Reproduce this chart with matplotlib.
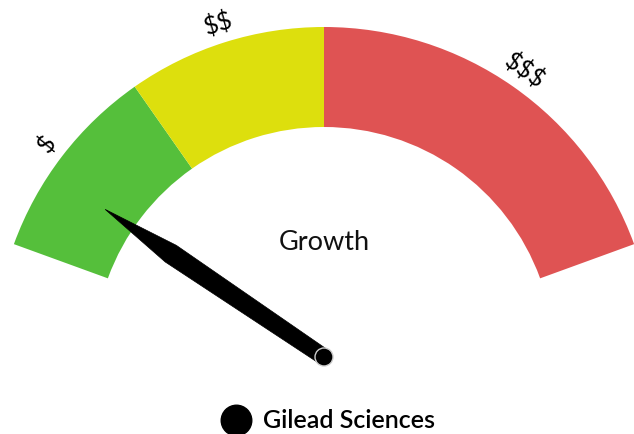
import numpy as np
import matplotlib
matplotlib.use("Agg")
import matplotlib.pyplot as plt
from matplotlib.patches import Wedge, Polygon, Circle

plt.rcParams["text.parse_math"] = False

# ---- data ----
band_starts = [0, 25, 50]
band_ends = [25, 50, 100]
band_labels = ["$", "$$", "$$$"]
band_colors = ["#55BF3B", "#DDDF0D", "#DF5353"]
gauge_min, gauge_max = 0, 100
value = 10
pane_title = "Growth"
series_name = "Gilead Sciences"

# ---- layout ----
W, H = 634, 434
cx, cy = 324, H - 357
r_out, r_in = 330, 230
start_deg, end_deg = 160, 20  # angles (deg, CCW from +x) for min and max

def ang(v):
    return start_deg + (v - gauge_min) / (gauge_max - gauge_min) * (end_deg - start_deg)

fig = plt.figure(figsize=(W / 100, H / 100), dpi=100)
ax = fig.add_axes([0, 0, 1, 1])
ax.set_xlim(0, W)
ax.set_ylim(0, H)
ax.set_aspect("equal")
ax.axis("off")

font = "Lato"

for s, e, lab, col in zip(band_starts, band_ends, band_labels, band_colors):
    a1, a2 = ang(e), ang(s)
    ax.add_patch(Wedge((cx, cy), r_out, a1, a2, width=r_out - r_in,
                       facecolor=col, edgecolor="none"))
    am = np.radians((a1 + a2) / 2)
    rl = 350
    ax.text(cx + rl * np.cos(am), cy + rl * np.sin(am), lab,
            rotation=np.degrees(am) - 90, ha="center", va="center",
            rotation_mode="anchor",
            fontsize=18, family=font, color="#000000")

ax.text(cx, H - 243, pane_title, ha="center", va="center",
        fontsize=19.5, family=font, color="#111111")

# needle
th = np.radians(ang(value))
u = np.array([np.cos(th), np.sin(th)])
n = np.array([-u[1], u[0]])
L = 264
c = np.array([cx, cy], dtype=float)
pts = [c + n * 8, c + u * L * 0.7 + n * 10, c + u * L,
       c + u * L * 0.7 - n * 10, c - n * 8]
ax.add_patch(Polygon(pts, closed=True, facecolor="black", edgecolor="black", lw=0.5))
ax.add_patch(Circle((cx, cy), 9, facecolor="black", edgecolor="#cccccc", lw=1, zorder=5))

# legend
ax.plot([236], [H - 420], marker="o", markersize=22, color="black", linestyle="none")
ax.text(263, H - 421, series_name, ha="left", va="center",
        fontsize=18, family=font, fontweight="semibold", color="#000000")

fig.savefig("out.png", dpi=100)
